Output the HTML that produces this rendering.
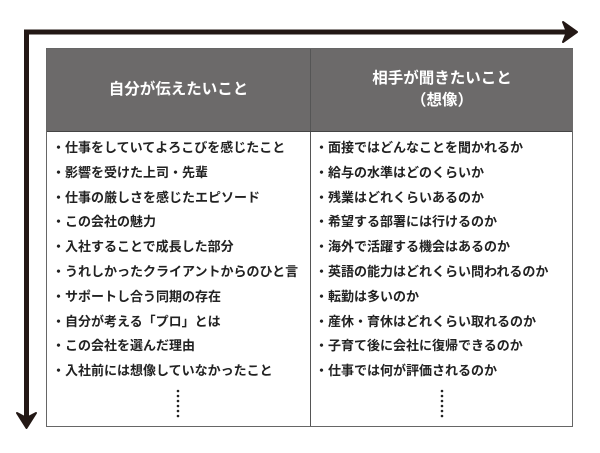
<!DOCTYPE html>
<html><head><meta charset="utf-8"><style>
html,body{margin:0;padding:0;background:#fff;}
body{width:600px;height:453px;position:relative;overflow:hidden;font-family:"Liberation Sans","Noto Sans CJK JP",sans-serif;}
.t{position:absolute;left:46px;top:48px;width:527px;height:379px;border:1px solid #666;box-sizing:border-box;}
.h{position:absolute;top:0;height:82px;background:#6c6a6a;color:#fff;font-weight:bold;font-size:15.5px;text-align:center;display:flex;align-items:center;justify-content:center;line-height:22px;}
.div{position:absolute;left:263px;top:0;width:1px;height:100%;background:#555;}
.hb{position:absolute;left:0;top:82px;width:100%;height:1px;background:#444;}
.col{position:absolute;top:90px;font-size:13px;font-weight:bold;color:#222;white-space:nowrap;}
.col div{height:24.8px;line-height:17px;}
</style></head><body>
<svg width="600" height="453" style="position:absolute;left:0;top:0">
<path d="M24 32 H570" stroke="#231815" stroke-width="5" fill="none"/>
<path d="M563 22 L577 32 L563 42 L567 32 Z" fill="#231815" stroke="#231815" stroke-width="2" stroke-linejoin="round"/>
<path d="M26.5 30 V420" stroke="#231815" stroke-width="5" fill="none"/>
<path d="M17 413 L26.5 428 L36 413 L26.5 418 Z" fill="#231815" stroke="#231815" stroke-width="2" stroke-linejoin="round"/>
</svg>
<div class="t">
<div class="h" style="left:0;width:263px;">自分が伝えたいこと</div>
<div class="h" style="left:264px;width:262px;">相手が聞きたいこと<br>（想像）</div>
<div class="div"></div><div class="hb"></div>
<div class="col" style="left:5px;">
<div>・仕事をしていてよろこびを感じたこと</div>
<div>・影響を受けた上司・先輩</div>
<div>・仕事の厳しさを感じたエピソード</div>
<div>・この会社の魅力</div>
<div>・入社することで成長した部分</div>
<div>・うれしかったクライアントからのひと言</div>
<div>・サポートし合う同期の存在</div>
<div>・自分が考える「プロ」とは</div>
<div>・この会社を選んだ理由</div>
<div>・入社前には想像していなかったこと</div>
</div>
<div class="col" style="left:268px;">
<div>・面接ではどんなことを聞かれるか</div>
<div>・給与の水準はどのくらいか</div>
<div>・残業はどれくらいあるのか</div>
<div>・希望する部署には行けるのか</div>
<div>・海外で活躍する機会はあるのか</div>
<div>・英語の能力はどれくらい問われるのか</div>
<div>・転勤は多いのか</div>
<div>・産休・育休はどれくらい取れるのか</div>
<div>・子育て後に会社に復帰できるのか</div>
<div>・仕事では何が評価されるのか</div>
</div>
</div>
<svg width="600" height="453" style="position:absolute;left:0;top:0">
<g fill="#222">
<circle cx="178" cy="391" r="1.3"/><circle cx="178" cy="396" r="1.3"/><circle cx="178" cy="401" r="1.3"/><circle cx="178" cy="406" r="1.3"/><circle cx="178" cy="411" r="1.3"/><circle cx="178" cy="416" r="1.3"/>
<circle cx="442" cy="391" r="1.3"/><circle cx="442" cy="396" r="1.3"/><circle cx="442" cy="401" r="1.3"/><circle cx="442" cy="406" r="1.3"/><circle cx="442" cy="411" r="1.3"/><circle cx="442" cy="416" r="1.3"/>
</g></svg>
</body></html>
